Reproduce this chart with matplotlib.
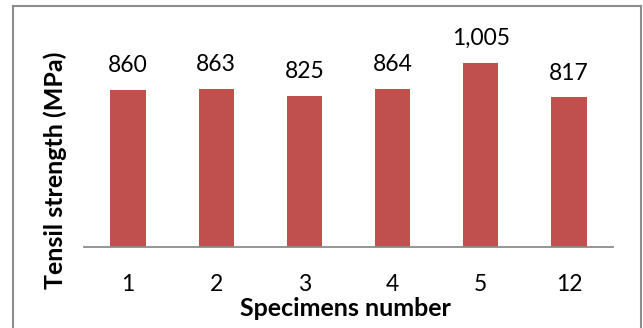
import matplotlib
matplotlib.use("Agg")
import matplotlib.pyplot as plt
from matplotlib.lines import Line2D

specimens = ["1", "2", "3", "4", "5", "12"]
strength = [860, 863, 825, 864, 1005, 817]
value_labels = ["860", "863", "825", "864", "1,005", "817"]

W, H = 643, 328
fig = plt.figure(figsize=(W / 100, H / 100), dpi=100)
fig.patch.set_facecolor("white")

ax = fig.add_axes([84 / W, (H - 246.5) / H, 529 / W, (246.5 - 27.5) / H])
x = range(len(specimens))
bars = ax.bar(x, strength, width=0.4, color="#C0504D", edgecolor="none")
ax.set_xlim(-0.5, len(specimens) - 0.5)
ax.set_ylim(0, 1200)

for spine in ("top", "right", "left"):
    ax.spines[spine].set_visible(False)
ax.spines["bottom"].set_color("#8C8C8C")
ax.spines["bottom"].set_linewidth(1.3)
ax.set_yticks([])
ax.set_xticks(list(x))
ax.set_xticklabels(specimens, fontfamily="Lato", fontsize=16.5)
ax.tick_params(axis="x", length=0, pad=20)

for bar, lab in zip(bars, value_labels):
    ax.annotate(lab, (bar.get_x() + bar.get_width() / 2, bar.get_height()),
                xytext=(0, 10), textcoords="offset points",
                ha="center", va="bottom", fontfamily="Lato", fontsize=16.5)

fig.text(345.5 / W, (H - 308.5) / H, "Specimens number", ha="center", va="center",
         fontfamily="Lato", fontweight="bold", fontsize=18)
fig.text(55.5 / W, (H - 170.5) / H, "Tensil strength (MPa)", ha="center", va="center",
         rotation=90, fontfamily="Lato", fontweight="bold", fontsize=18)

# chart frame
frame_kw = dict(color="#8C8C8C", linewidth=1.5, transform=None)
fig.add_artist(Line2D([12.5, 12.5], [0, H - 5.5], **frame_kw))
fig.add_artist(Line2D([12.5, 640.5], [H - 5.5, H - 5.5], **frame_kw))
fig.add_artist(Line2D([640.5, 640.5], [0, H - 5.5], **frame_kw))

fig.savefig("out.png", dpi=100, facecolor="white")
